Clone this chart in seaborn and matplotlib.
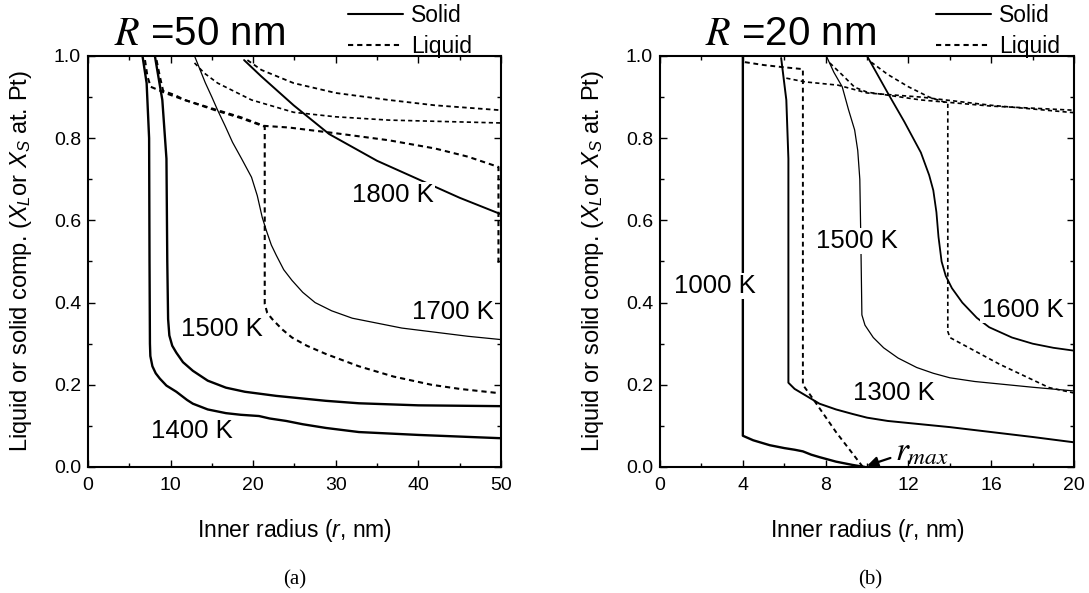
import numpy as np
import pandas as pd
import matplotlib
matplotlib.use("Agg")
import matplotlib.pyplot as plt
from matplotlib.lines import Line2D
from matplotlib.ticker import MultipleLocator, FormatStrFormatter
import seaborn as sns

# ---------------- data: (a) R = 50 nm ----------------
a_s1400_r = [6.6, 7.1, 7.4, 7.45, 7.5, 7.55, 7.8, 8.2, 8.7, 9.5, 10.7, 12.0, 12.7, 14.5, 16.7, 18.5, 20.7, 22.0, 24.0, 26.0, 28.8, 32.8, 40.0, 50.0]
a_s1400_x = [1.0, 0.934, 0.80, 0.50, 0.30, 0.27, 0.245, 0.228, 0.215, 0.198, 0.183, 0.163, 0.154, 0.14, 0.131, 0.127, 0.124, 0.118, 0.112, 0.104, 0.095, 0.085, 0.078, 0.07]
a_s1500_r = [8.1, 9.0, 9.5, 9.6, 9.7, 9.85, 10.2, 10.7, 11.5, 12.7, 14.5, 16.7, 19.0, 22.8, 28.8, 32.8, 40.0, 50.0]
a_s1500_x = [1.0, 0.893, 0.75, 0.50, 0.36, 0.32, 0.295, 0.278, 0.255, 0.234, 0.21, 0.193, 0.183, 0.173, 0.161, 0.155, 0.150, 0.148]
a_s1700_r = [12.9, 13.5, 14.2, 15.0, 15.7, 16.6, 17.5, 18.6, 19.8, 20.5, 21.1, 21.6, 22.2, 22.8, 23.7, 24.7, 26.0, 27.5, 29.5, 32.0, 35.0, 38.0, 42.0, 46.0, 50.0]
a_s1700_x = [1.0, 0.97, 0.935, 0.90, 0.868, 0.83, 0.79, 0.75, 0.705, 0.66, 0.607, 0.575, 0.54, 0.515, 0.48, 0.454, 0.425, 0.40, 0.38, 0.362, 0.35, 0.338, 0.328, 0.318, 0.31]
a_s1800_r = [18.9, 21.0, 24.9, 29.2, 35.0, 40.0, 45.0, 50.0]
a_s1800_x = [0.99, 0.95, 0.88, 0.81, 0.745, 0.70, 0.655, 0.615]

a_l1400_r = [6.9, 7.2, 7.6, 9.6, 11.7, 15.7, 18.5, 21.3, 24.3, 30.0, 36.4, 42.0, 46.0, 49.7, 49.7]
a_l1400_x = [0.99, 0.95, 0.925, 0.908, 0.893, 0.868, 0.851, 0.83, 0.826, 0.812, 0.795, 0.775, 0.755, 0.73, 0.49]
a_l1500_r = [8.3, 8.7, 9.1, 10.5, 11.7, 15.7, 18.5, 21.4, 21.4, 21.7, 22.3, 23.5, 24.7, 26.5, 28.8, 32.8, 37.0, 41.6, 45.0, 49.6]
a_l1500_x = [0.99, 0.95, 0.915, 0.905, 0.893, 0.866, 0.849, 0.828, 0.397, 0.375, 0.36, 0.335, 0.315, 0.295, 0.275, 0.245, 0.22, 0.20, 0.19, 0.18]
a_l1700_r = [12.9, 14.1, 15.7, 19.8, 24.9, 30.0, 36.4, 50.0]
a_l1700_x = [0.983, 0.958, 0.934, 0.893, 0.863, 0.852, 0.844, 0.837]
a_l1800_r = [19.3, 21.0, 24.9, 30.0, 36.4, 42.0, 50.0]
a_l1800_x = [0.99, 0.966, 0.934, 0.91, 0.893, 0.88, 0.868]

# ---------------- data: (b) R = 20 nm ----------------
b_s1000_r = [4.0, 4.0, 4.5, 5.3, 6.0, 6.5, 6.9, 7.3, 7.7, 8.5, 9.3, 9.9]
b_s1000_x = [1.0, 0.076, 0.065, 0.053, 0.046, 0.042, 0.038, 0.03, 0.024, 0.013, 0.005, 0.0]
b_s1300_r = [5.85, 6.1, 6.2, 6.2, 6.5, 6.9, 7.7, 8.5, 9.3, 10.0, 11.0, 12.6, 14.0, 16.0, 18.0, 20.0]
b_s1300_x = [0.995, 0.893, 0.75, 0.205, 0.19, 0.178, 0.154, 0.14, 0.129, 0.12, 0.112, 0.104, 0.097, 0.085, 0.073, 0.06]
b_s1500_r = [8.05, 8.4, 8.8, 9.1, 9.4, 9.55, 9.65, 9.7, 9.75, 9.9, 10.3, 10.8, 11.5, 12.4, 13.2, 14.0, 15.2, 16.4, 18.0, 20.0]
b_s1500_x = [0.998, 0.96, 0.925, 0.87, 0.82, 0.77, 0.70, 0.55, 0.37, 0.345, 0.315, 0.29, 0.265, 0.242, 0.228, 0.217, 0.208, 0.202, 0.194, 0.185]
b_s1600_r = [10.0, 10.5, 11.0, 11.8, 12.6, 13.0, 13.2, 13.35, 13.45, 13.6, 13.8, 14.1, 14.6, 15.3, 15.9, 17.0, 18.0, 19.0, 20.0]
b_s1600_x = [1.0, 0.955, 0.91, 0.84, 0.765, 0.71, 0.673, 0.62, 0.56, 0.50, 0.465, 0.435, 0.40, 0.363, 0.34, 0.315, 0.30, 0.29, 0.283]

b_l1000_r = [4.1, 5.0, 5.9, 6.9, 6.9, 7.4, 8.5, 9.8]
b_l1000_x = [0.985, 0.978, 0.973, 0.968, 0.20, 0.165, 0.085, 0.0]
b_l1300_r = [6.1, 7.0, 8.6, 10.0, 12.6, 16.0, 20.0]
b_l1300_x = [0.946, 0.937, 0.929, 0.91, 0.90, 0.88, 0.862]
b_l1500_r = [8.2, 8.8, 9.4, 10.0, 12.6, 16.0, 20.0]
b_l1500_x = [0.983, 0.954, 0.924, 0.912, 0.893, 0.878, 0.868]
b_l1600_r = [10.2, 11.0, 12.0, 13.0, 13.9, 13.9, 14.0, 16.4, 18.8, 20.0]
b_l1600_x = [0.985, 0.955, 0.925, 0.90, 0.885, 0.33, 0.315, 0.25, 0.193, 0.18]

# labels
a_labels = ["1400 K", "1500 K", "1700 K", "1800 K"]
a_label_pos = [(12.6, 0.088), (16.2, 0.336), (44.2, 0.376), (36.9, 0.661)]
b_labels = ["1000 K", "1500 K", "1300 K", "1600 K"]
b_label_pos = [(2.66, 0.44), (9.5, 0.55), (11.3, 0.18), (17.5, 0.383)]

# ---------------- style ----------------
sns.set_style("ticks")
plt.rcParams['font.family'] = ['Liberation Sans', 'DejaVu Sans']
plt.rcParams['mathtext.fontset'] = 'custom'
plt.rcParams['mathtext.rm'] = 'Liberation Sans'
plt.rcParams['mathtext.it'] = 'Liberation Sans:italic'
plt.rcParams['mathtext.bf'] = 'Liberation Sans:bold'
for k in ['text.color', 'axes.labelcolor', 'xtick.color', 'ytick.color', 'axes.edgecolor']:
    plt.rcParams[k] = 'black'

fig = plt.figure(figsize=(10.89, 5.93), dpi=100)
axA = fig.add_axes([0.0808, 0.2125, 0.3792, 0.6931])
axB = fig.add_axes([0.6061, 0.2125, 0.3802, 0.6931])

DASH = (0, (2.5, 1.9))

def curve(ax, r, x, dashed=False, lw=1.6):
    sns.lineplot(x=np.array(r), y=np.array(x), sort=False, estimator=None, ax=ax,
                 color="black", linewidth=lw,
                 linestyle=DASH if dashed else "-")

# panel a
curve(axA, a_s1400_r, a_s1400_x, lw=1.7)
curve(axA, a_s1500_r, a_s1500_x, lw=1.7)
curve(axA, a_s1700_r, a_s1700_x, lw=0.9)
curve(axA, a_s1800_r, a_s1800_x, lw=1.4)
curve(axA, a_l1400_r, a_l1400_x, dashed=True, lw=1.5)
curve(axA, a_l1500_r, a_l1500_x, dashed=True, lw=1.5)
curve(axA, a_l1700_r, a_l1700_x, dashed=True, lw=1.2)
curve(axA, a_l1800_r, a_l1800_x, dashed=True, lw=1.3)

# panel b
curve(axB, b_s1000_r, b_s1000_x, lw=1.7)
curve(axB, b_s1300_r, b_s1300_x, lw=1.4)
curve(axB, b_s1500_r, b_s1500_x, lw=0.9)
curve(axB, b_s1600_r, b_s1600_x, lw=1.3)
curve(axB, b_l1000_r, b_l1000_x, dashed=True, lw=1.4)
curve(axB, b_l1300_r, b_l1300_x, dashed=True, lw=1.2)
curve(axB, b_l1500_r, b_l1500_x, dashed=True, lw=1.2)
curve(axB, b_l1600_r, b_l1600_x, dashed=True, lw=1.2)

label_bbox = dict(facecolor="white", edgecolor="none", pad=1.0)
for ax, labs, pos in [(axA, a_labels, a_label_pos), (axB, b_labels, b_label_pos)]:
    for t, (px, py) in zip(labs, pos):
        ax.text(px, py, t, ha="center", va="center", fontsize=18.5, bbox=label_bbox, zorder=5)

axB.annotate(r"$r_{max}$", xy=(10.0, 0.003), xytext=(11.35, 0.037),
             fontsize=24, math_fontfamily="stix", ha="left", va="center",
             arrowprops=dict(arrowstyle="-|>", color="black", lw=1.6,
                             mutation_scale=16, shrinkA=1, shrinkB=0,
                             relpos=(0.0, 0.35)))

for ax, xmax, xmaj, xmin, title, tx, lx in [
        (axA, 50, 10, 5, r"$R$ =50 nm", 0.271, 0.63),
        (axB, 20, 4, 2, r"$R$ =20 nm", 0.316, 0.667)]:
    ax.set_xlim(0, xmax)
    ax.set_ylim(0, 1.0)
    ax.xaxis.set_major_locator(MultipleLocator(xmaj))
    ax.xaxis.set_minor_locator(MultipleLocator(xmin))
    ax.yaxis.set_major_locator(MultipleLocator(0.2))
    ax.yaxis.set_minor_locator(MultipleLocator(0.1))
    ax.yaxis.set_major_formatter(FormatStrFormatter("%.1f"))
    ax.tick_params(which="both", direction="in", top=True, right=True, width=1.0,
                   labelsize=14, colors="black")
    ax.tick_params(which="major", length=5)
    ax.tick_params(which="minor", length=3)
    ax.tick_params(axis="x", pad=7)
    ax.tick_params(axis="y", pad=5)
    for sp in ax.spines.values():
        sp.set_linewidth(1.5)
        sp.set_color("black")
    ax.set_xlabel(r"Inner radius ($r$, nm)", fontsize=16.5)
    ax.xaxis.set_label_coords(0.5, -0.122)
    ax.set_ylabel(r"Liquid or solid comp. ($X_L$or $X_S$ at. Pt)", fontsize=17)
    ax.yaxis.set_label_coords(-0.13, 0.5)
    ax.text(tx, 1.054, title, transform=ax.transAxes, ha="center", va="center",
            fontsize=29, math_fontfamily="stix")
    handles = [Line2D([], [], color="black", lw=1.5, linestyle="-"),
               Line2D([], [], color="black", lw=1.5, linestyle=DASH)]
    ax.legend(handles, ["Solid", "Liquid"], loc="lower left",
              bbox_to_anchor=(lx, 0.995), frameon=False, fontsize=16.5,
              handlelength=2.4, handletextpad=0.35, labelspacing=0.33,
              borderpad=0, borderaxespad=0)

fig.text(295 / 1089, 1 - 580 / 593, "(a)", ha="center", va="center", fontsize=15,
         family=["Liberation Serif", "DejaVu Serif"])
fig.text(870 / 1089, 1 - 580 / 593, "(b)", ha="center", va="center", fontsize=15,
         family=["Liberation Serif", "DejaVu Serif"])

fig.savefig("out.png", dpi=100)
